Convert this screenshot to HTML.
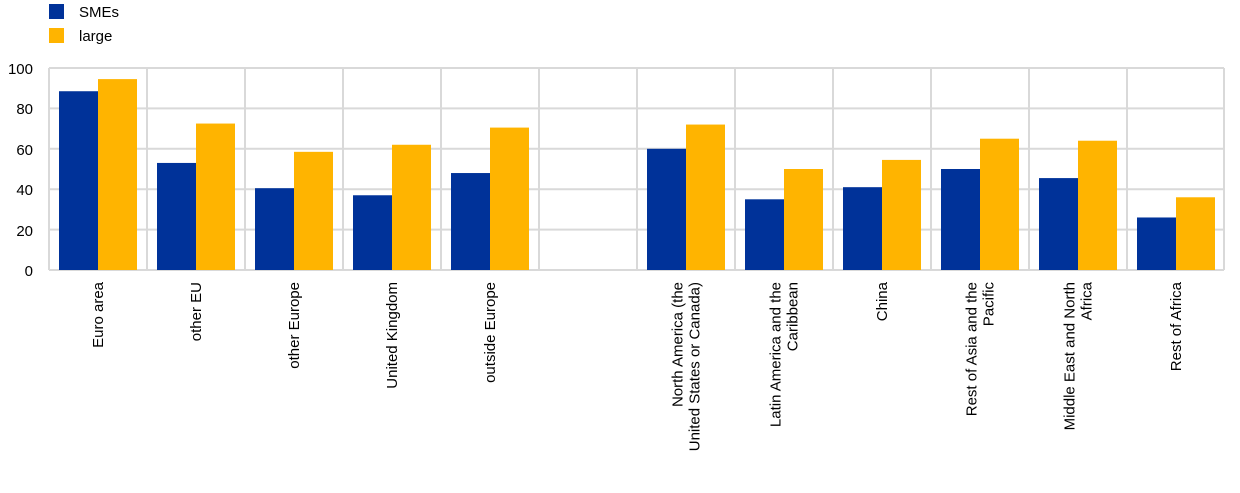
<!DOCTYPE html>
<html><head><style>
body{margin:0;background:#fff;}
svg text{font-family:"Liberation Sans",Arial,sans-serif;font-size:15px;fill:#000;}
</style></head><body>
<svg width="1240" height="488" viewBox="0 0 1240 488">
<rect x="49" y="4" width="15" height="15" fill="#003299"/>
<text x="79" y="17">SMEs</text>
<rect x="49" y="28" width="15" height="15" fill="#ffb400"/>
<text x="79" y="41">large</text>
<g stroke="#d9d9d9" stroke-width="2">
<line x1="49" x2="1224" y1="68" y2="68"/>
<line x1="49" x2="1224" y1="108.4" y2="108.4"/>
<line x1="49" x2="1224" y1="148.8" y2="148.8"/>
<line x1="49" x2="1224" y1="189.2" y2="189.2"/>
<line x1="49" x2="1224" y1="229.6" y2="229.6"/>
<line x1="49" x2="1224" y1="270" y2="270"/>
<line x1="49" x2="49" y1="68" y2="270"/>
<line x1="147" x2="147" y1="68" y2="270"/>
<line x1="245" x2="245" y1="68" y2="270"/>
<line x1="343" x2="343" y1="68" y2="270"/>
<line x1="441" x2="441" y1="68" y2="270"/>
<line x1="539" x2="539" y1="68" y2="270"/>
<line x1="637" x2="637" y1="68" y2="270"/>
<line x1="735" x2="735" y1="68" y2="270"/>
<line x1="833" x2="833" y1="68" y2="270"/>
<line x1="931" x2="931" y1="68" y2="270"/>
<line x1="1029" x2="1029" y1="68" y2="270"/>
<line x1="1127" x2="1127" y1="68" y2="270"/>
<line x1="1224" x2="1224" y1="68" y2="270"/>
</g>
<g text-anchor="end">
<text x="33" y="74">100</text><text x="33" y="114">80</text><text x="33" y="155">60</text>
<text x="33" y="195">40</text><text x="33" y="236">20</text><text x="33" y="276">0</text>
</g>
<g id="bars"></g>
<g id="labels"></g>
</svg>
<script>
var s=[88.5,53,40.5,37,48,null,60,35,41,50,45.5,26];
var l=[94.5,72.5,58.5,62,70.5,null,72,50,54.5,65,64,36];
var labs=[["Euro area"],["other EU"],["other Europe"],["United Kingdom"],["outside Europe"],[],["North America (the","United States or Canada)"],["Latin America and the","Caribbean"],["China"],["Rest of Asia and the","Pacific"],["Middle East and North","Africa"],["Rest of Africa"]];
var ns="http://www.w3.org/2000/svg",b=document.getElementById("bars"),g=document.getElementById("labels");
for(var i=0;i<12;i++){var x0=49+i*98;
 if(s[i]!=null){[[s[i],x0+10,"#003299"],[l[i],x0+49,"#ffb400"]].forEach(function(a){var r=document.createElementNS(ns,"rect");var h=a[0]*2.02;r.setAttribute("x",a[1]);r.setAttribute("width",39);r.setAttribute("y",270-h);r.setAttribute("height",h);r.setAttribute("fill",a[2]);b.appendChild(r);});}
 var n=labs[i].length;
 for(var k=0;k<n;k++){var t=document.createElementNS(ns,"text");var cx=x0+49+(k-(n-1)/2)*17+5;
  t.setAttribute("transform","translate("+cx+",282) rotate(-90)");t.setAttribute("text-anchor","end");t.textContent=labs[i][k];g.appendChild(t);}
}
</script>
</body></html>
